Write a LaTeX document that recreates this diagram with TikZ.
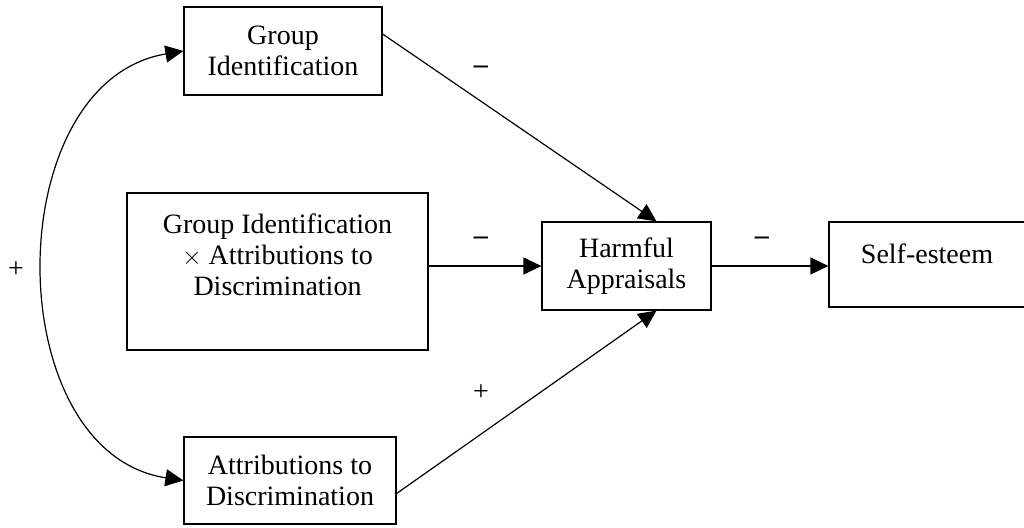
\documentclass[tikz,border=0pt]{standalone}
\usepackage{fontspec}
\setmainfont{Liberation Serif}
\usetikzlibrary{arrows.meta}
\begin{document}
\begin{tikzpicture}[x=1pt,y=-1pt,
  box/.style={draw,line width=1.2pt,inner sep=0pt,align=center,
    font=\fontsize{28}{31}\selectfont},
  txt/.style={inner sep=0pt,align=center,font=\fontsize{28}{31}\selectfont},
  sign/.style={inner sep=0pt,font=\fontsize{28}{31}\selectfont},
  arr/.style={line width=1.2pt,-{Triangle[length=18pt,width=17pt]}},
  darr/.style={line width=1.2pt,{Triangle[length=18pt,width=17pt]}-{Triangle[length=18pt,width=17pt]}}]
\useasboundingbox (0,0) rectangle (1024,527);
\clip (0,0) rectangle (1024,527);
\node[box,minimum width=198pt,minimum height=88pt] (gi) at (283,51) {Group\\Identification};
\node[box,minimum width=301pt,minimum height=157pt] (int) at (277.5,271.5) {};
\node[txt] (inttext) at (277.5,255) {Group Identification\\$\times$ Attributions to\\Discrimination};
\node[box,minimum width=169pt,minimum height=88pt] (harm) at (626.5,266) {Harmful\\Appraisals};
\node[box,minimum width=211pt,minimum height=85pt] (self) at (934.5,264.5) {};
\node[txt,anchor=base] (selftext) at (927,263) {Self-esteem};
\node[box,minimum width=212pt,minimum height=87pt] (attr) at (290,480.5) {Attributions to\\Discrimination};
\draw[arr] ([yshift=17pt]gi.east) -- ([xshift=30pt]harm.north);
\draw[arr] ([yshift=-13pt]attr.east) -- ([xshift=30pt]harm.south);
\draw[arr] (int.east |- harm.west) -- (harm.west);
\draw[arr] (harm.east) -- (self.west |- harm.east);
\draw[darr] (gi.west) .. controls (-2,82) and (-2,452) .. (attr.west);
\node[sign] (m1) at (481,70) {\textbf{–}};
\node[sign] (m2) at (481,241) {\textbf{–}};
\node[sign] (m3) at (762,241) {\textbf{–}};
\node[sign] (p1) at (481,393) {+};
\node[sign] (p2) at (16,270) {+};
\end{tikzpicture}
\end{document}
